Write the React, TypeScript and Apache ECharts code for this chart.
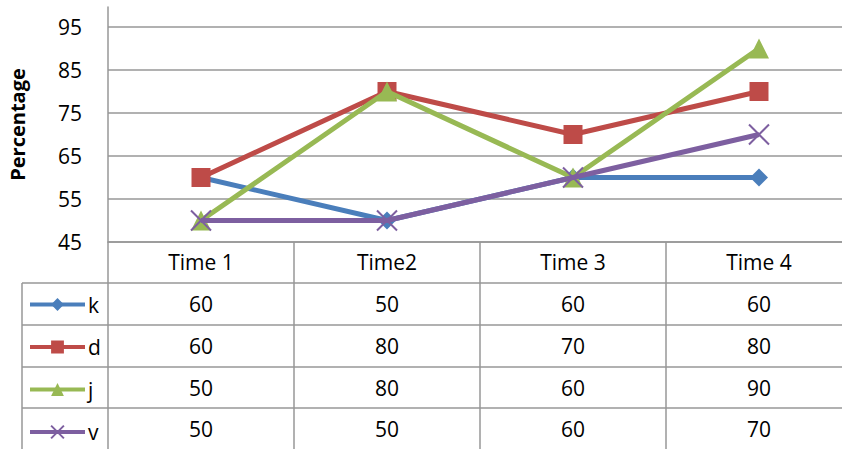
import React, { useEffect, useRef } from "react";
import * as echarts from "echarts";

// Categories, series values and axis ticks
const categories = ["Time 1", "Time2", "Time 3", "Time 4"];
const seriesNames = ["k", "d", "j", "v"];
const kValues = [60, 50, 60, 60];
const dValues = [60, 80, 70, 80];
const jValues = [50, 80, 60, 90];
const vValues = [50, 50, 60, 70];
const yTicks = [45, 55, 65, 75, 85, 95];

const seriesValues = [kValues, dValues, jValues, vValues];
const colors = ["#4A7EBB", "#BE4B48", "#98B954", "#7D5FA0"];
const crossPath = "path://M0,0L20,20M20,0L0,20";
const symbols = ["diamond", "rect", "triangle", crossPath];
const symbolSizes = [18, 19, 20, 20];

const FONT = "'Open Sans', sans-serif";
const GRID_COLOR = "#979797";

export default function App() {
  const ref = useRef<HTMLDivElement>(null);

  useEffect(() => {
    if (!ref.current) return;
    const chart = echarts.init(ref.current, null, { renderer: "svg" });

    const gridLeft = 108;
    const gridTop = 7;
    const gridBottomY = 242;
    const width = 842;
    const height = 449;
    const rowLines = [283, 325, 367, 408];
    const legendLeft = 22;

    const splitColors = yTicks.map(() => GRID_COLOR).concat(["rgba(0,0,0,0)"]);

    const option: any = {
      animation: false,
      backgroundColor: "#ffffff",
      grid: {
        left: gridLeft,
        top: gridTop,
        width: 744,
        height: gridBottomY - gridTop,
        containLabel: false,
        outerBoundsMode: "none",
      },
      legend: {
        orient: "vertical",
        left: 28,
        top: 294,
        height: 200,
        padding: 0,
        itemWidth: 55,
        itemHeight: 16,
        itemGap: 21.5,
        selectedMode: false,
        lineStyle: { width: 4 },
        textStyle: { fontFamily: FONT, fontSize: 21, color: "#000", lineHeight: 20, padding: [0, 0, 0, -2] },
        data: seriesNames,
      },
      xAxis: {
        type: "category",
        data: categories,
        boundaryGap: true,
        axisLine: { show: true, lineStyle: { color: GRID_COLOR, width: 1.5 } },
        axisTick: {
          show: true,
          length: height - gridBottomY,
          lineStyle: { color: GRID_COLOR, width: 1.5 },
        },
        axisLabel: {
          margin: 9,
          fontFamily: FONT,
          fontSize: 21,
          color: "#000",
        },
      },
      yAxis: {
        type: "value",
        min: 45,
        max: 45 + (gridBottomY - gridTop) / 4.3,
        interval: 10,
        name: "Percentage",
        nameLocation: "middle",
        nameRotate: 90,
        nameGap: 81,
        nameTextStyle: { fontFamily: FONT, fontSize: 20, fontWeight: "bold", color: "#000" },
        axisLine: { show: true, lineStyle: { color: GRID_COLOR, width: 1.5 } },
        axisTick: { show: false },
        axisLabel: {
          margin: 26,
          fontFamily: FONT,
          fontSize: 21,
          color: "#000",
          showMaxLabel: false,
        },
        splitLine: { show: true, lineStyle: { color: splitColors, width: 1.5 } },
      },
      series: seriesNames.map((name, i) => ({
        name,
        type: "line",
        data: seriesValues[i],
        symbol: symbols[i],
        symbolSize: symbolSizes[i],
        showAllSymbol: true,
        lineStyle: { color: colors[i], width: 5 },
        itemStyle:
          i === 3
            ? { color: colors[i], borderColor: colors[i], borderWidth: 2 }
            : { color: colors[i], borderWidth: 0 },
        emphasis: { disabled: true },
        z: 2 + i,
      })),
    };

    chart.setOption(option);

    // Data table under the plot: borders and the value cells
    const graphics: any[] = [];
    rowLines.forEach((y) => {
      graphics.push({
        type: "line",
        shape: { x1: legendLeft, y1: y, x2: width, y2: y },
        style: { stroke: GRID_COLOR, lineWidth: 1.5 },
        silent: true,
      });
    });
    graphics.push({
      type: "line",
      shape: { x1: legendLeft, y1: rowLines[0], x2: legendLeft, y2: height },
      style: { stroke: GRID_COLOR, lineWidth: 1.5 },
      silent: true,
    });
    const rowCenters = rowLines.map((y, i) =>
      i < rowLines.length - 1 ? (y + rowLines[i + 1]) / 2 : (y + height) / 2 + 0.5
    );
    seriesValues.forEach((vals, r) => {
      vals.forEach((v, c) => {
        const px = chart.convertToPixel({ xAxisIndex: 0 }, categories[c]) as number;
        graphics.push({
          type: "text",
          x: px,
          y: rowCenters[r],
          silent: true,
          style: {
            text: String(v),
            fontFamily: FONT,
            fontSize: 21,
            fill: "#000",
            align: "center",
            verticalAlign: "middle",
          },
        });
      });
    });
    chart.setOption({ graphic: graphics });

    return () => chart.dispose();
  }, []);

  return (
    <div
      ref={ref}
      style={{ position: "fixed", left: 0, top: 0, width: 842, height: 449, background: "#fff" }}
    />
  );
}
